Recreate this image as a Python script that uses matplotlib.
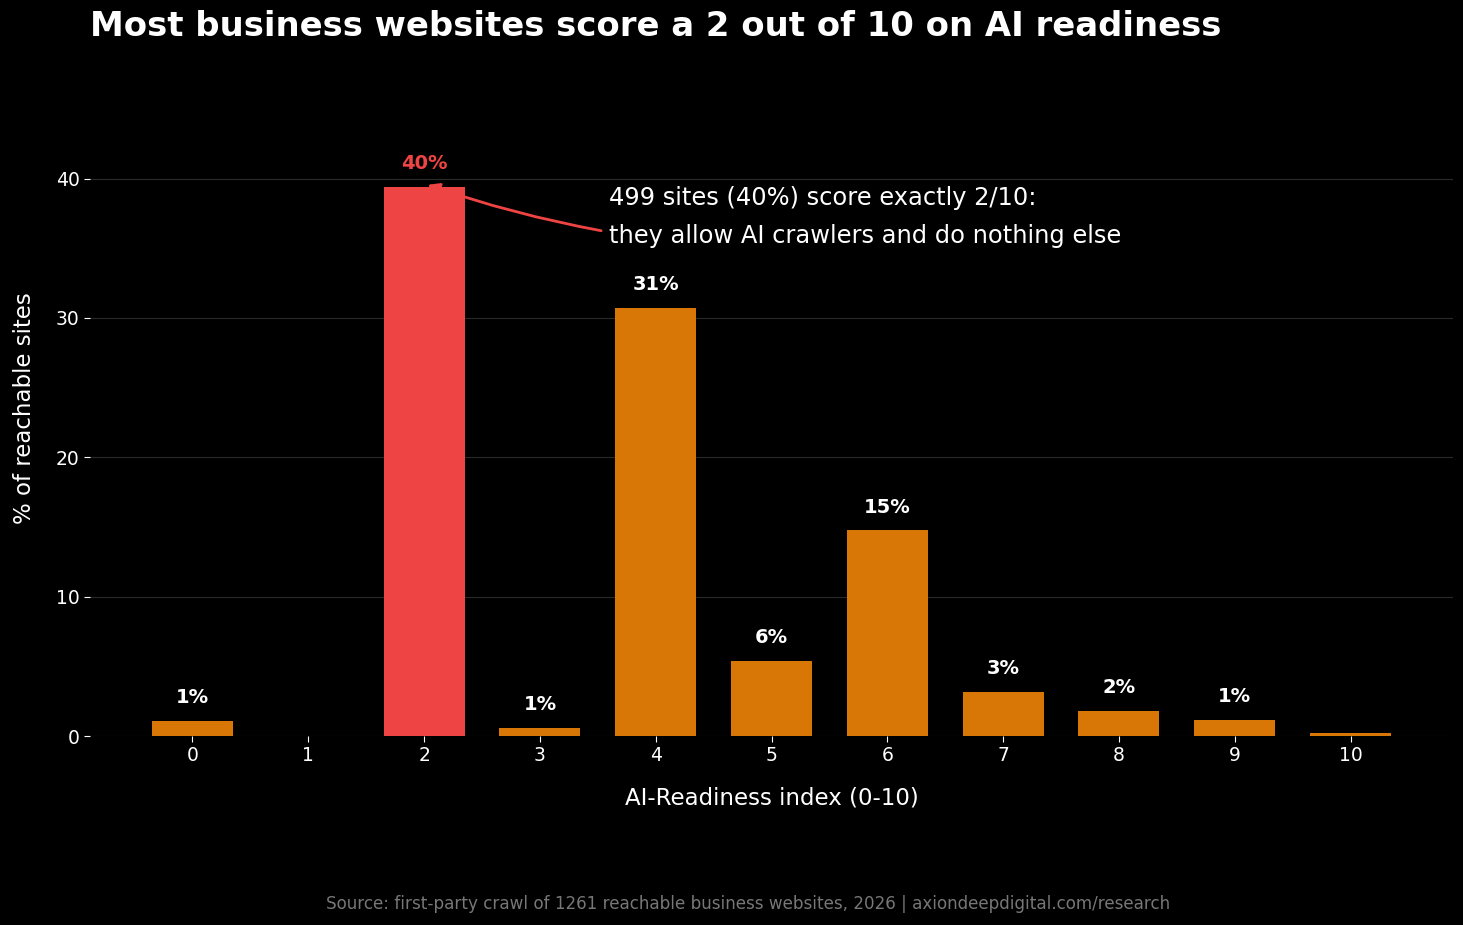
import matplotlib
matplotlib.use("Agg")
import matplotlib.pyplot as plt
import numpy as np

# data
scores = [0, 1, 2, 3, 4, 5, 6, 7, 8, 9, 10]
pct = [1.1, 0.0, 39.4, 0.55, 30.7, 5.4, 14.75, 3.17, 1.82, 1.15, 0.24]
bar_labels = ["1%", "", "40%", "1%", "31%", "6%", "15%", "3%", "2%", "1%", ""]
highlight = 2

title = "Most business websites score a 2 out of 10 on AI readiness"
note = "499 sites (40%) score exactly 2/10:\nthey allow AI crawlers and do nothing else"
source = "Source: first-party crawl of 1261 reachable business websites, 2026 | axiondeepdigital.com/research"

orange = "#D97706"
red = "#EF4444"

fig = plt.figure(figsize=(14.63, 9.25), dpi=100, facecolor="black")
ax = fig.add_axes([90/1463, 1-736/925, 1363/1463, (736-81)/925])
ax.set_facecolor("black")

colors = [red if s == highlight else orange for s in scores]
bars = ax.bar(scores, pct, width=0.7, color=colors, zorder=3)

for s, v, lab in zip(scores, pct, bar_labels):
    if not lab:
        continue
    ax.text(s, v + 1.0, lab, ha="center", va="bottom",
            fontsize=14, fontweight="bold",
            color=red if s == highlight else "white")

ax.set_ylim(0, 47)
ax.set_yticks([0, 10, 20, 30, 40])
ax.set_xticks(scores)
ax.grid(axis="y", color="#2a2a2a", linewidth=0.8, zorder=0)
for sp in ax.spines.values():
    sp.set_visible(False)
ax.tick_params(colors="white", labelsize=13.5, length=4)

ax.set_xlabel("AI-Readiness index (0-10)", color="white", fontsize=16.5, labelpad=15)
ax.set_ylabel("% of reachable sites", color="white", fontsize=16.5, labelpad=14)

ax.annotate(note, xy=(2.03, pct[highlight] + 0.15), xytext=(3.6, 37.25),
            ha="left", va="center", fontsize=17.4, color="white", linespacing=1.7,
            arrowprops=dict(arrowstyle="-|>", color=red, lw=2,
                            connectionstyle="arc3,rad=-0.04", relpos=(0, 0.25),
                            shrinkA=4, shrinkB=0))

fig.text(90/1463, 1-26/925, title, ha="left", va="center", fontsize=24.4,
         fontweight="bold", color="white")
fig.text(748/1463, 1-904/925, source, ha="center", va="center", fontsize=12.1,
         color="#777777")

fig.savefig("out.png", dpi=100, facecolor="black")
